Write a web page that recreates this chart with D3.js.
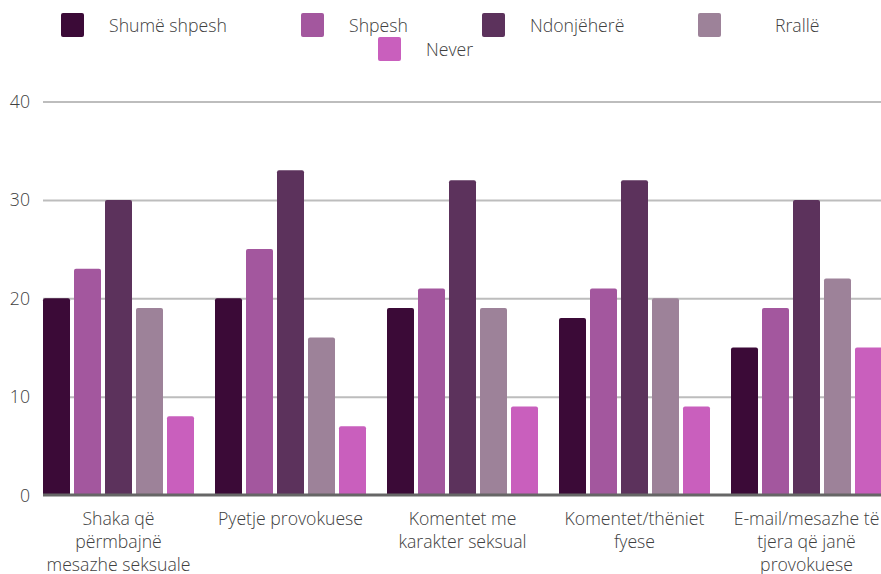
<!DOCTYPE html>
<html>
<head>
<meta charset="utf-8">
<script src="https://cdn.jsdelivr.net/npm/d3@7/dist/d3.min.js"></script>
<style>
  html, body { margin: 0; padding: 0; background: #fff; }
  svg { display: block; font-family: "Open Sans", sans-serif; }
</style>
</head>
<body>
<svg id="chart" width="881" height="574"></svg>
<script>
// Categories (each entry holds the label's lines)
const categories = [
  ["Shaka që", "përmbajnë", "mesazhe seksuale"],
  ["Pyetje provokuese"],
  ["Komentet me", "karakter seksual"],
  ["Komentet/thëniet", "fyese"],
  ["E-mail/mesazhe të", "tjera që janë", "provokuese"]
];
const seriesNames = ["Shumë shpesh", "Shpesh", "Ndonjëherë", "Rrallë", "Never"];
const seriesColors = ["#3b0a37", "#a3579e", "#5c325c", "#9d8299", "#c95fbd"];

// Values per series, one per category
const shumeShpesh = [20, 20, 19, 18, 15];
const shpesh      = [23, 25, 21, 21, 19];
const ndonjehere  = [30, 33, 32, 32, 30];
const ralle       = [19, 16, 19, 20, 22];
const never       = [8, 7, 9, 9, 15];
const seriesValues = [shumeShpesh, shpesh, ndonjehere, ralle, never];

const yTicks = [0, 10, 20, 30, 40];

// Text is set a little narrow
const fontSize = 19;
const squeeze = 0.93;
const textColor = "#404040";

const svg = d3.select("#chart");
const plotLeft = 43, plotRight = 881, plotTop = 101.5, plotBottom = 495;

const x0 = d3.scaleBand()
  .domain(d3.range(categories.length))
  .range([32.5, 892.5])
  .paddingInner(21 / 172)
  .paddingOuter(21 / 344);

const x1 = d3.scaleBand()
  .domain(d3.range(seriesNames.length))
  .range([0, x0.bandwidth()])
  .paddingInner(4 / 31)
  .paddingOuter(0);

const y = d3.scaleLinear().domain([0, 40]).range([plotBottom, plotTop]);

// Gridlines and tick labels
const yAxis = d3.axisLeft(y).tickValues(yTicks).tickSize(0).tickPadding(14);
const gy = svg.append("g").attr("transform", `translate(${plotLeft},0)`).call(yAxis);
gy.select(".domain").remove();
gy.selectAll(".tick text")
  .attr("font-family", "Open Sans, sans-serif")
  .attr("font-size", fontSize)
  .attr("font-weight", 300)
  .attr("fill", textColor)
  .attr("transform", `scale(${squeeze},1)`);
gy.selectAll(".tick").filter(d => d !== 0).append("line")
  .attr("x1", 0).attr("x2", plotRight - plotLeft)
  .attr("stroke", "#bdbdbd").attr("stroke-width", 2);

// Bars
const groups = svg.append("g").selectAll("g")
  .data(categories)
  .join("g")
  .attr("transform", (d, i) => `translate(${x0(i)},0)`);

groups.selectAll("path")
  .data((d, i) => seriesValues.map((vals, s) => ({ s, v: vals[i] })))
  .join("path")
  .attr("fill", d => seriesColors[d.s])
  .attr("d", d => {
    const x = x1(d.s), w = x1.bandwidth(), y0 = y(0), yt = y(d.v), r = 2;
    return `M${x},${y0}V${yt + r}Q${x},${yt} ${x + r},${yt}H${x + w - r}Q${x + w},${yt} ${x + w},${yt + r}V${y0}Z`;
  });

// Baseline
svg.append("line")
  .attr("x1", plotLeft).attr("x2", plotRight)
  .attr("y1", y(0)).attr("y2", y(0))
  .attr("stroke", "#666").attr("stroke-width", 3);

// Category labels
const labels = svg.append("g").selectAll("text")
  .data(categories)
  .join("text")
  .attr("text-anchor", "middle")
  .attr("font-size", fontSize)
  .attr("font-weight", 300)
  .attr("fill", textColor)
  .attr("transform", (d, i) => `translate(${x0(i) + x0.bandwidth() / 2},525) scale(${squeeze},1)`);
labels.selectAll("tspan")
  .data(d => d)
  .join("tspan")
  .attr("x", 0)
  .attr("dy", (d, j) => j === 0 ? 0 : 23)
  .text(d => d);

// Legend
const legendPos = [
  { sx: 61, sy: 13, tx: 109 },
  { sx: 301, sy: 13, tx: 349 },
  { sx: 482, sy: 13, tx: 530 },
  { sx: 698, sy: 13, tx: 775 },
  { sx: 378, sy: 37, tx: 426 }
];
const legend = svg.append("g").selectAll("g")
  .data(seriesNames)
  .join("g");
legend.append("rect")
  .attr("x", (d, i) => legendPos[i].sx)
  .attr("y", (d, i) => legendPos[i].sy)
  .attr("width", 23).attr("height", 24).attr("rx", 2)
  .attr("fill", (d, i) => seriesColors[i]);
legend.append("text")
  .attr("transform", (d, i) => `translate(${legendPos[i].tx},${legendPos[i].sy + 18.5}) scale(${squeeze},1)`)
  .attr("font-size", fontSize)
  .attr("font-weight", 300)
  .attr("fill", textColor)
  .text(d => d);
</script>
</body>
</html>
